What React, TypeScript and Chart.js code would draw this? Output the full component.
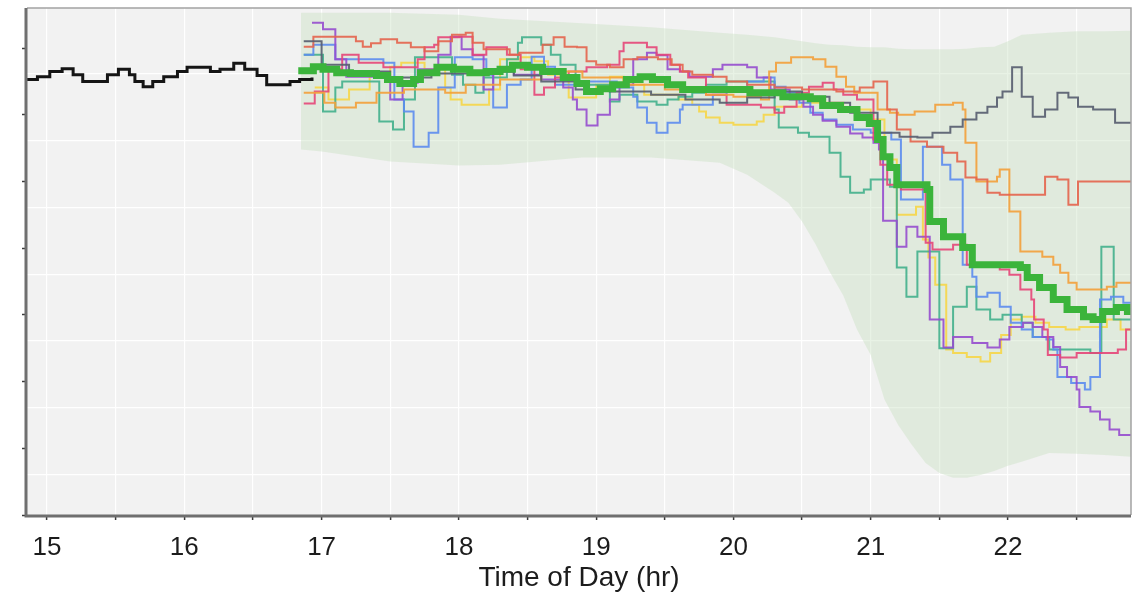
import { useEffect, useRef } from "react";
import { Chart, registerables } from "chart.js";

Chart.register(...registerables);

type Pt = [number, number];

// ---- axis definitions ----
const xTickHours = [15, 15.5, 16, 16.5, 17, 17.5, 18, 18.5, 19, 19.5, 20, 20.5, 21, 21.5, 22, 22.5];
const yTickValues = [0, 10, 20, 30, 40, 50, 60, 70];
const yGridValues = [6.1, 16.1, 26.1, 36.1, 46.1, 56.1, 66.1];
const X_MIN = 14.854;
const X_MAX = 22.896;
const Y_MIN = 0;
const Y_MAX = 76;

// ---- observed history (black) ----
const historyBlack: Pt[] = [
  [14.85, 65.3], [14.93, 65.7], [15.02, 66.5], [15.11, 66.9], [15.19, 66.0], [15.26, 65.0], [15.44, 66.0],
  [15.52, 66.8], [15.60, 66.0], [15.64, 65.0], [15.70, 64.2], [15.77, 65.0], [15.85, 65.7], [15.95, 66.5],
  [16.02, 67.1], [16.19, 66.5], [16.26, 66.8], [16.36, 67.7], [16.44, 66.8], [16.53, 65.9], [16.60, 64.5],
  [16.70, 64.5], [16.77, 65.0], [16.84, 65.3], [16.93, 65.6],
];

// ---- ensemble median (thick green) ----
const medianGreen: Pt[] = [
  [16.83, 66.6], [16.94, 67.2], [17.01, 66.8], [17.11, 66.3], [17.21, 66.2], [17.40, 65.9], [17.48, 65.3],
  [17.57, 64.7], [17.67, 65.3], [17.72, 66.3], [17.84, 67.1], [17.96, 66.8], [18.08, 66.3], [18.20, 66.5],
  [18.30, 66.8], [18.39, 67.4], [18.50, 67.1], [18.61, 66.5], [18.76, 65.6], [18.86, 64.7], [18.93, 63.5],
  [19.03, 63.9], [19.12, 64.5], [19.22, 65.3], [19.32, 65.7], [19.41, 65.3], [19.52, 64.5], [19.63, 63.8],
  [19.88, 63.8], [20.12, 63.3], [20.36, 62.7], [20.56, 62.4], [20.65, 61.4], [20.78, 60.8], [20.90, 59.6],
  [20.99, 58.7], [21.05, 56.3], [21.09, 53.7], [21.14, 52.1], [21.19, 49.5], [21.41, 48.8], [21.43, 44.0],
  [21.53, 41.7], [21.67, 40.1], [21.74, 37.5], [22.09, 37.1], [22.14, 35.6], [22.23, 34.1], [22.33, 32.3],
  [22.43, 30.8], [22.55, 29.7], [22.62, 29.3], [22.69, 30.5], [22.79, 31.1], [22.87, 30.5], [22.92, 30.5],
];

// ---- ensemble members ----
const grayLine: Pt[] = [
  [16.87, 71.0], [17.0, 67.5], [17.2, 66.5], [17.5, 65.6], [17.8, 66.2], [18.1, 66.5], [18.4, 65.9],
  [18.6, 65.0], [18.85, 63.8], [19.1, 63.5], [19.4, 63.0], [19.65, 62.3], [19.9, 61.8], [20.1, 62.6],
  [20.3, 63.5], [20.5, 62.7], [20.7, 61.8], [20.85, 60.3], [21.05, 57.3], [21.21, 56.7], [21.34, 56.6],
  [21.45, 57.3], [21.58, 58.2], [21.67, 59.3], [21.77, 60.3], [21.85, 61.2], [21.92, 62.6], [21.96, 63.5],
  [22.03, 67.1], [22.10, 62.7], [22.18, 59.7], [22.27, 60.8], [22.36, 63.3], [22.44, 62.6], [22.51, 61.2],
  [22.62, 60.8], [22.78, 58.8], [22.92, 58.8],
];

const coralLine: Pt[] = [
  [16.87, 70.2], [16.94, 71.7], [17.25, 71.0], [17.30, 70.2], [17.36, 70.7], [17.43, 71.3], [17.55, 70.8],
  [17.65, 70.1], [17.75, 69.5], [17.85, 71.0], [17.95, 72.0], [18.05, 72.3], [18.10, 70.8], [18.18, 69.8],
  [18.37, 69.0], [18.44, 69.3], [18.61, 70.5], [18.69, 71.6], [18.77, 70.2], [18.86, 70.1], [18.93, 68.0],
  [19.00, 67.5], [19.10, 67.1], [19.20, 68.3], [19.30, 68.6], [19.45, 68.3], [19.55, 67.5], [19.63, 66.5],
  [19.70, 66.0], [19.85, 65.7], [19.95, 65.0], [20.10, 64.5], [20.30, 64.1], [20.50, 63.8], [20.75, 63.5],
  [20.92, 64.1], [21.02, 65.0], [21.12, 60.8], [21.19, 57.8], [21.29, 56.0], [21.41, 55.2], [21.53, 54.3],
  [21.63, 53.0], [21.69, 50.6], [21.77, 50.3], [21.85, 48.3], [21.94, 48.0], [22.27, 50.7], [22.36, 50.3],
  [22.44, 46.5], [22.51, 50.0], [22.92, 50.0],
];

const orangeLine: Pt[] = [
  [16.87, 63.3], [17.02, 61.8], [17.10, 61.1], [17.25, 61.8], [17.40, 63.3], [17.60, 63.8], [17.90, 63.3],
  [18.05, 64.5], [18.30, 65.3], [18.60, 66.5], [18.90, 65.6], [19.20, 64.5], [19.50, 63.8], [19.80, 63.0],
  [20.00, 62.7], [20.20, 62.3], [20.26, 66.5], [20.31, 67.8], [20.42, 68.6], [20.58, 68.3], [20.67, 67.2],
  [20.75, 65.7], [20.82, 64.2], [20.88, 63.3], [21.05, 60.8], [21.14, 60.3], [21.20, 60.0], [21.32, 60.5],
  [21.47, 61.5], [21.60, 61.8], [21.67, 60.8], [21.69, 55.8], [21.77, 50.0], [21.92, 50.7], [21.94, 51.8],
  [22.01, 45.5], [22.09, 39.5], [22.25, 38.7], [22.33, 37.5], [22.38, 36.3], [22.44, 34.8], [22.50, 33.8],
  [22.72, 34.2], [22.79, 34.8], [22.92, 34.8],
];

const pinkLine: Pt[] = [
  [16.87, 61.7], [16.95, 63.5], [17.05, 66.8], [17.15, 69.0], [17.27, 67.8], [17.45, 67.1], [17.70, 68.3],
  [17.75, 70.1], [17.82, 70.5], [17.85, 71.6], [18.00, 71.7], [18.10, 69.0], [18.20, 70.1], [18.35, 69.0],
  [18.45, 66.8], [18.55, 63.0], [18.62, 64.1], [18.70, 65.6], [18.80, 66.5], [18.93, 67.1], [19.08, 67.5],
  [19.17, 69.5], [19.20, 70.8], [19.37, 70.1], [19.44, 69.0], [19.54, 67.5], [19.61, 66.5], [19.67, 65.6],
  [19.80, 63.0], [19.95, 61.5], [20.20, 61.1], [20.30, 60.3], [20.37, 61.2], [20.46, 63.3], [20.55, 64.2],
  [20.65, 64.8], [20.73, 63.8], [20.80, 63.0], [20.90, 62.3], [21.02, 56.3], [21.07, 52.5], [21.12, 49.5],
  [21.22, 48.8], [21.40, 40.8], [21.45, 39.8], [21.60, 40.5], [21.70, 37.5], [21.94, 36.8], [22.01, 36.0],
  [22.09, 33.8], [22.17, 32.3], [22.19, 29.3], [22.26, 27.8], [22.29, 24.0], [22.38, 23.6], [22.50, 24.3],
  [22.80, 24.8], [22.86, 27.8], [22.92, 27.8],
];

const purpleLine: Pt[] = [
  [16.93, 73.8], [17.01, 72.8], [17.10, 68.3], [17.18, 65.7], [17.50, 62.3], [17.59, 64.8], [17.70, 66.8],
  [17.85, 69.0], [17.94, 71.7], [18.02, 69.8], [18.10, 68.9], [18.18, 63.8], [18.25, 66.5], [18.40, 66.0],
  [18.60, 65.3], [18.76, 64.1], [18.83, 62.3], [18.86, 60.8], [18.93, 58.4], [19.01, 60.0], [19.10, 62.3],
  [19.17, 64.5], [19.27, 68.3], [19.37, 69.3], [19.44, 68.9], [19.52, 66.8], [19.61, 66.5], [19.68, 65.7],
  [19.85, 66.8], [19.92, 67.5], [20.10, 67.1], [20.17, 65.6], [20.27, 63.8], [20.41, 62.3], [20.51, 61.2],
  [20.58, 60.0], [20.65, 59.1], [20.75, 58.2], [20.85, 57.2], [20.94, 56.6], [21.02, 55.8], [21.06, 54.8],
  [21.09, 44.1], [21.19, 40.2], [21.26, 43.2], [21.34, 41.7], [21.43, 29.3], [21.53, 25.1], [21.60, 26.7],
  [21.74, 25.8], [21.85, 25.1], [21.94, 26.3], [22.01, 28.2], [22.11, 28.8], [22.18, 28.2], [22.25, 26.7],
  [22.33, 25.2], [22.38, 22.2], [22.43, 20.7], [22.50, 18.8], [22.52, 16.2], [22.60, 15.5], [22.67, 14.3],
  [22.74, 12.8], [22.81, 12.0], [22.92, 12.3],
];

const blueLine: Pt[] = [
  [16.87, 69.0], [16.94, 70.5], [17.10, 68.3], [17.45, 67.8], [17.53, 62.3], [17.60, 60.5], [17.67, 55.2],
  [17.78, 57.3], [17.85, 64.1], [17.97, 68.6], [18.10, 68.3], [18.20, 66.0], [18.25, 61.1], [18.35, 64.5],
  [18.45, 65.3], [18.53, 68.7], [18.62, 67.2], [18.70, 64.5], [18.85, 65.0], [19.15, 64.1], [19.27, 62.7],
  [19.30, 61.1], [19.37, 58.8], [19.44, 57.3], [19.52, 58.8], [19.61, 60.8], [19.63, 61.5], [19.85, 63.0],
  [19.95, 63.8], [20.10, 65.0], [20.22, 65.6], [20.30, 64.2], [20.38, 63.3], [20.48, 61.8], [20.56, 60.3],
  [20.65, 59.3], [20.75, 58.5], [20.87, 57.8], [21.00, 57.3], [21.15, 56.3], [21.22, 47.3], [21.38, 55.2],
  [21.52, 52.5], [21.58, 50.3], [21.67, 37.5], [21.74, 35.7], [21.77, 32.7], [21.85, 33.3], [21.94, 31.2],
  [22.02, 28.8], [22.10, 27.8], [22.18, 26.7], [22.28, 26.3], [22.33, 24.8], [22.36, 20.7], [22.46, 19.8],
  [22.56, 18.8], [22.60, 20.7], [22.67, 32.3], [22.75, 32.7], [22.84, 31.8], [22.92, 31.8],
];

const tealLine: Pt[] = [
  [16.87, 69.0], [17.01, 60.5], [17.10, 64.1], [17.15, 65.0], [17.42, 59.0], [17.52, 57.8], [17.60, 62.3],
  [17.68, 68.6], [17.95, 66.0], [18.03, 64.5], [18.12, 63.3], [18.18, 65.6], [18.35, 68.3], [18.43, 70.8],
  [18.46, 71.6], [18.60, 70.5], [18.67, 69.0], [18.74, 67.5], [18.85, 64.5], [19.10, 62.0], [19.17, 63.0],
  [19.30, 62.0], [19.44, 61.5], [19.52, 62.3], [19.60, 62.7], [19.70, 63.3], [19.80, 64.5], [19.95, 65.0],
  [20.30, 60.8], [20.33, 58.1], [20.47, 57.3], [20.55, 56.7], [20.70, 54.3], [20.78, 50.7], [20.85, 48.3],
  [20.95, 48.8], [21.00, 50.3], [21.14, 49.2], [21.19, 37.1], [21.26, 32.7], [21.34, 39.5], [21.50, 25.0],
  [21.60, 31.2], [21.70, 34.2], [21.77, 30.8], [21.87, 29.3], [21.96, 30.0], [22.10, 28.8], [22.18, 26.7],
  [22.30, 24.8], [22.60, 24.3], [22.68, 40.2], [22.77, 29.3], [22.92, 29.3],
];

const yellowLine: Pt[] = [
  [16.95, 64.1], [17.05, 62.3], [17.20, 63.8], [17.35, 66.0], [17.50, 67.2], [17.58, 67.8], [17.75, 66.8],
  [17.90, 64.1], [17.94, 62.3], [18.02, 61.5], [18.22, 63.8], [18.30, 68.3], [18.45, 68.6], [18.55, 68.0],
  [18.65, 66.0], [18.80, 62.6], [19.00, 64.5], [19.10, 65.7], [19.20, 64.5], [19.35, 63.0], [19.60, 62.3],
  [19.70, 61.5], [19.75, 60.5], [19.80, 59.6], [19.90, 58.8], [20.00, 58.5], [20.17, 59.0], [20.22, 60.0],
  [20.30, 61.2], [20.50, 61.8], [20.80, 60.8], [21.00, 59.3], [21.10, 53.3], [21.19, 45.0], [21.33, 46.2],
  [21.38, 41.3], [21.42, 38.6], [21.47, 34.5], [21.55, 24.8], [21.60, 24.3], [21.70, 23.7], [21.80, 23.0],
  [21.87, 24.3], [21.95, 27.0], [22.02, 29.3], [22.10, 29.7], [22.20, 28.8], [22.30, 28.2], [22.42, 27.8],
  [22.52, 28.2], [22.72, 29.3], [22.82, 27.8], [22.92, 27.8],
];

// ---- ensemble envelope (light green band) ----
const bandHours = [
  16.85, 17.0, 17.5, 18.0, 18.3, 18.9, 19.4, 19.9, 20.1, 20.3, 20.4, 20.5, 20.6, 20.7, 20.8, 20.9,
  21.0, 21.1, 21.2, 21.3, 21.4, 21.5, 21.6, 21.7, 21.8, 21.9, 22.0, 22.1, 22.3, 22.5, 22.7, 22.92,
];
const bandUpper = [
  75.3, 75.3, 75.3, 75.0, 74.4, 73.7, 73.1, 72.3, 72.0, 71.6, 71.3, 71.0, 70.7, 70.5, 70.4, 70.2,
  70.1, 70.1, 69.9, 69.8, 69.8, 69.8, 69.8, 69.9, 70.1, 70.2, 71.0, 72.0, 72.3, 72.5, 72.5, 72.6,
];
const bandLower = [
  54.8, 54.5, 53.0, 52.4, 52.5, 53.6, 53.6, 52.8, 51.0, 48.3, 46.8, 44.0, 40.5, 36.5, 32.9, 27.8,
  24.0, 17.3, 13.5, 10.5, 7.8, 6.3, 5.6, 5.6, 6.0, 6.6, 7.4, 8.0, 9.3, 9.2, 9.0, 8.7,
];

const FONT = '"Liberation Sans", Arial, Helvetica, sans-serif';

const framePlugin = {
  id: "frame",
  beforeDraw(chart: any) {
    const { ctx, chartArea } = chart;
    const { left, top, right, bottom } = chartArea;
    ctx.save();
    ctx.fillStyle = "#f2f2f2";
    ctx.fillRect(left, top, right - left, bottom - top);
    ctx.restore();
  },
  afterDraw(chart: any) {
    const { ctx, chartArea } = chart;
    const { left, top, right, bottom } = chartArea;
    ctx.save();
    ctx.strokeStyle = "#a3a3a3";
    ctx.lineWidth = 1.5;
    ctx.beginPath();
    ctx.moveTo(left, top);
    ctx.lineTo(right, top);
    ctx.lineTo(right, bottom);
    ctx.stroke();
    ctx.strokeStyle = "#6f6f6f";
    ctx.lineWidth = 3;
    ctx.beginPath();
    ctx.moveTo(left - 1, top);
    ctx.lineTo(left - 1, bottom + 1);
    ctx.lineTo(right, bottom + 1);
    ctx.stroke();
    ctx.restore();
  },
};

export default function App() {
  const ref = useRef<HTMLCanvasElement>(null);

  useEffect(() => {
    const canvas = ref.current;
    if (!canvas) return;
    const toXY = (arr: Pt[]) => arr.map(([x, y]) => ({ x, y }));
    const step = (label: string, arr: Pt[], color: string, width: number, order: number) => ({
      label,
      data: toXY(arr),
      borderColor: color,
      borderWidth: width,
      pointRadius: 0,
      stepped: true,
      fill: false,
      order,
      borderJoinStyle: "miter" as const,
      borderCapStyle: "butt" as const,
    });

    const chart = new Chart(canvas, {
      type: "line",
      data: {
        datasets: [
          step("Median", medianGreen, "#3bb43b", 7, 0),
          step("History", historyBlack, "#151515", 3, 1),
          step("Member A", grayLine, "rgba(88,94,112,0.92)", 2, 2),
          step("Member B", coralLine, "rgba(228,100,76,0.9)", 2, 3),
          step("Member C", orangeLine, "rgba(243,160,58,0.9)", 2, 4),
          step("Member D", pinkLine, "rgba(230,70,120,0.9)", 2, 5),
          step("Member E", purpleLine, "rgba(150,76,206,0.9)", 2, 6),
          step("Member F", blueLine, "rgba(92,140,238,0.9)", 2, 7),
          step("Member G", tealLine, "rgba(66,176,140,0.9)", 2, 8),
          step("Member H", yellowLine, "rgba(246,214,72,0.9)", 2, 9),
          {
            label: "Envelope upper",
            data: bandHours.map((x, i) => ({ x, y: bandUpper[i] })),
            borderWidth: 0,
            borderColor: "rgba(0,0,0,0)",
            pointRadius: 0,
            fill: "+1",
            backgroundColor: "rgba(199,225,193,0.42)",
            order: 20,
          },
          {
            label: "Envelope lower",
            data: bandHours.map((x, i) => ({ x, y: bandLower[i] })),
            borderWidth: 0,
            borderColor: "rgba(0,0,0,0)",
            pointRadius: 0,
            fill: false,
            order: 21,
          },
        ] as any,
      },
      options: {
        responsive: false,
        animation: false,
        layout: { padding: { left: 0, right: 2, top: 8, bottom: 0 } },
        plugins: {
          legend: { display: false },
          tooltip: { enabled: false },
        },
        scales: {
          x: {
            type: "linear",
            min: X_MIN,
            max: X_MAX,
            afterBuildTicks: (s: any) => {
              s.ticks = xTickHours.map((v) => ({ value: v }));
            },
            afterFit: (s: any) => {
              s.height = 77;
            },
            grid: {
              color: "#ffffff",
              lineWidth: 1.2,
              drawTicks: true,
              tickLength: 5,
              tickWidth: 1.5,
              tickColor: "#3a3a3a",
            },
            border: { display: false },
            ticks: {
              autoSkip: false,
              maxRotation: 0,
              padding: 12,
              color: "#1c1c1c",
              font: { family: FONT, size: 26 },
              callback: (v: any) => (Number.isInteger(Number(v)) ? String(v) : ""),
            },
            title: {
              display: true,
              text: "Time of Day (hr)",
              color: "#1c1c1c",
              font: { family: FONT, size: 28, lineHeight: 1.0 },
              padding: { top: 0, bottom: 0 },
            },
          },
          y: {
            type: "linear",
            min: Y_MIN,
            max: Y_MAX,
            afterBuildTicks: (s: any) => {
              s.ticks = yTickValues.map((v) => ({ value: v }));
            },
            afterFit: (s: any) => {
              s.width = 27;
            },
            grid: {
              drawOnChartArea: false,
              drawTicks: true,
              tickLength: 5,
              tickWidth: 1.5,
              tickColor: "#3a3a3a",
            },
            border: { display: false },
            ticks: { display: false },
          },
          y2: {
            type: "linear",
            position: "right",
            min: Y_MIN,
            max: Y_MAX,
            afterBuildTicks: (s: any) => {
              s.ticks = yGridValues.map((v) => ({ value: v }));
            },
            afterFit: (s: any) => {
              s.width = 0;
            },
            grid: { color: "#ffffff", lineWidth: 1.2, drawTicks: false },
            border: { display: false },
            ticks: { display: false },
          },
        },
      } as any,
      plugins: [framePlugin],
    });

    return () => chart.destroy();
  }, []);

  return (
    <div style={{ position: "fixed", left: 0, top: 0, width: 1133, height: 592, background: "#ffffff" }}>
      <canvas ref={ref} width={1133} height={592} style={{ display: "block" }} />
    </div>
  );
}
